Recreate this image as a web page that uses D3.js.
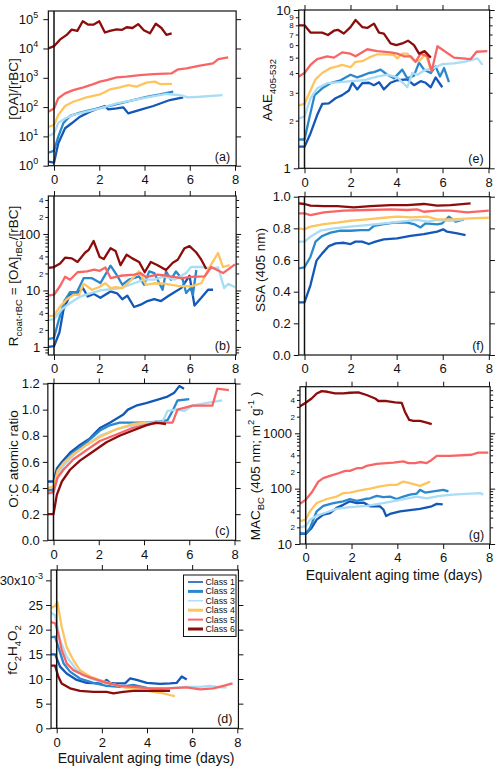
<!DOCTYPE html>
<html><head><meta charset="utf-8">
<script src="https://cdn.jsdelivr.net/npm/d3@7"></script>
<style>body{margin:0;background:#fff}svg{font-family:"Liberation Sans",Arial,Helvetica,sans-serif}</style>
</head><body><svg id="c" width="500" height="769"></svg>
<script>
// ---------------- data ----------------
const classes = ["Class 1","Class 2","Class 3","Class 4","Class 5","Class 6"];
const classColors = ["#1358b8","#2a88cc","#a9dcf5","#fec45e","#f96565","#8c0c0c"];
const xTicks = [0,2,4,6,8];
const oaTicks = [1,10,100,1000,10000,100000];
const rMajor = [1,10,100], rMinorLabels = [2,4,20,40,200,400];
const ocTicks = [0,0.2,0.4,0.6,0.8,1.0,1.2];
const fTicks = [0,5,10,15,20,25,30];
const aaeMajor = [1,10], aaeMinorLabels = [2,3,4,5,6,7,8,9];
const ssaTicks = [0,0.2,0.4,0.6,0.8,1.0];
const macMajor = [10,100,1000], macMinorLabels = [20,40,200,400,2000,4000];

// (a) [OA]/[rBC]
const oaRbc = [
 [[-0.25,1.37],[0,1.27],[0.19,5.8],[0.49,19],[0.78,28],[1.15,47],[1.59,70],[1.96,90],[2.25,109],[2.4,83],[2.77,90],[3.06,98],[3.28,61],[3.8,80],[4.39,109],[5.12,174],[5.71,215]],
 [[-0.25,2.8],[0,3.2],[0.19,9.8],[0.41,28],[0.71,50],[1.15,65],[1.74,83],[2.33,103],[2.91,134],[3.5,174],[4.09,225],[4.68,270],[5.27,335]],
 [[-0.25,10.3],[0,12.7],[0.19,29],[0.49,41],[0.85,54],[1.44,70],[2.03,90],[2.77,134],[3.5,174],[4.24,225],[4.97,280],[5.56,258],[5.93,215],[6.45,225],[7.45,258]],
 [[-0.25,21],[0,24.5],[0.19,54],[0.49,109],[0.85,152],[1.44,215],[2.03,270],[2.47,400],[2.91,470],[3.28,565],[3.65,500],[4.09,680],[4.46,740],[4.68,610],[5.22,620]],
 [[-0.25,70],[0,90],[0.19,200],[0.49,295],[0.85,380],[1.3,470],[1.74,610],[2.03,740],[2.33,835],[2.77,1030],[3.21,1090],[3.8,1240],[4.39,1340],[5.2,1420],[5.49,1940],[5.86,2100],[6.45,2600],[7.03,3100],[7.26,4300],[7.7,5000]],
 [[-0.25,1.0e4],[0,1.2e4],[0.26,2.0e4],[0.56,2.9e4],[0.78,4.4e4],[1.03,4.0e4],[1.27,8.5e4],[1.52,6.5e4],[1.74,6.5e4],[2.0,8.5e4],[2.25,3.5e4],[2.47,4.0e4],[2.77,4.5e4],[2.99,4.3e4],[3.21,5.3e4],[3.47,5.0e4],[3.72,6.8e4],[3.97,4.2e4],[4.24,3.3e4],[4.5,7.0e4],[4.75,5.0e4],[4.97,2.9e4],[5.2,3.3e4]]
];
// (b) R coat-rBC
const rCoat = [
 [[-0.25,1.0],[0,1.03],[0.24,1.8],[0.42,4.6],[0.71,8.4],[1.01,8.7],[1.28,11],[1.49,7.8],[1.75,8.7],[2.05,7.4],[2.5,9.6],[2.79,8.9],[3.02,7.0],[3.24,8.1],[3.54,5.1],[3.83,5.6],[4.13,6.5],[4.43,7.0],[4.73,6.5],[5.02,7.8],[5.32,9.3],[5.62,11],[5.99,18.2],[6.21,5.4],[6.51,7.4],[6.81,10.3],[7.03,10.3]],
 [[-0.25,1.38],[0,1.45],[0.19,2.8],[0.45,6.4],[0.71,9.3],[1.01,9.3],[1.31,16.5],[1.68,16.5],[2.05,13.5],[2.5,27.5],[2.79,18.3],[3.02,12.6],[3.31,15.5],[3.76,17.7],[3.98,12.6],[4.21,21.7],[4.43,20.3],[4.8,10.3],[4.95,21.7],[5.17,15.5],[5.39,21.7],[5.69,15.5],[5.84,9],[6.03,11],[6.14,8.4],[6.29,23]],
 [[-0.25,3.0],[0,3.1],[0.34,4.6],[0.71,6.0],[1.16,7.8],[1.6,8.9],[2.05,10],[2.5,10.5],[2.94,11],[3.54,13.4],[3.98,15.5],[4.43,15.5],[4.87,17.7],[5.32,15.5],[5.84,20.3],[6.06,26],[6.51,26],[6.95,24.6],[7.25,25.7],[7.52,11],[7.7,13.1],[8.0,11.4]],
 [[-0.25,3.5],[0,3.6],[0.27,5.2],[0.56,6.9],[0.86,8.4],[1.11,8.4],[1.31,13.1],[1.68,10.3],[1.98,11.4],[2.27,13.4],[2.5,11],[2.72,11.4],[3.02,11],[3.39,15.1],[3.76,21.8],[4.06,12.6],[4.43,13.4],[4.87,13.2],[5.47,12],[6.06,11.8],[6.51,13.4],[6.81,23.3],[7.25,46],[7.47,26],[7.77,28]],
 [[-0.25,8.1],[0,8.4],[0.27,12],[0.49,17.5],[0.71,15.5],[1.04,21],[1.46,21.7],[1.78,23.3],[2.02,22.3],[2.27,25.6],[2.5,16.6],[2.94,18.2],[3.54,19],[3.83,20.3],[4.06,17.3],[4.58,19],[5.02,18.2],[5.62,16.6],[6.21,17.5],[6.66,17.8],[6.95,26],[7.47,20.3],[8.0,29]],
 [[-0.25,25],[0,26],[0.27,30],[0.49,38],[0.79,37],[1.04,32],[1.38,47],[1.53,52],[1.75,75],[2.02,39],[2.2,36],[2.5,56],[2.72,50],[2.94,28],[3.21,43],[3.46,37],[3.76,32],[4.01,21],[4.28,32],[4.58,28],[4.95,23],[5.25,31],[5.47,35],[5.77,56],[5.99,61],[6.29,47],[6.51,35],[6.73,24]]
];
// (c) O:C
const ocRatio = [
 [[-0.25,0.45],[0,0.45],[0.15,0.55],[0.37,0.6],[0.73,0.67],[1.17,0.73],[1.61,0.78],[2.05,0.86],[2.49,0.9],[2.78,0.93],[3.07,0.96],[3.29,1.0],[3.65,1.03],[4.09,1.05],[4.68,1.08],[5.04,1.1],[5.34,1.13],[5.56,1.18],[5.77,1.16]],
 [[-0.25,0.38],[0,0.39],[0.18,0.53],[0.44,0.59],[0.88,0.67],[1.46,0.75],[2.05,0.84],[2.49,0.88],[2.92,0.9],[3.51,0.9],[4.09,0.9],[4.68,0.91],[5.04,0.92],[5.26,0.99],[5.48,1.07],[6.0,1.08]],
 [[-0.25,0.36],[0,0.36],[0.18,0.49],[0.44,0.57],[0.88,0.65],[1.46,0.73],[2.05,0.8],[2.78,0.85],[3.51,0.88],[4.24,0.9],[4.82,0.91],[5.04,0.99],[5.41,1.0],[5.77,0.99],[6.14,1.03],[6.73,1.05],[7.46,1.07]],
 [[-0.25,0.4],[0,0.41],[0.18,0.53],[0.44,0.59],[0.88,0.66],[1.46,0.73],[2.05,0.79],[2.78,0.85],[3.51,0.89],[4.09,0.9]],
 [[-0.25,0.36],[0,0.37],[0.18,0.48],[0.44,0.54],[0.88,0.62],[1.46,0.69],[2.05,0.76],[2.78,0.81],[3.51,0.86],[4.24,0.89],[4.82,0.9],[5.26,0.9],[5.48,1.0],[6.14,1.03],[7.02,1.03],[7.24,1.16],[7.75,1.15]],
 [[-0.25,0.2],[0,0.2],[0.15,0.35],[0.37,0.45],[0.73,0.54],[1.17,0.61],[1.75,0.68],[2.34,0.75],[2.92,0.8],[3.51,0.84],[4.09,0.88],[4.53,0.9],[4.97,0.89]]
];
// (d) fC2H4O2 (x10^-3)
const fC2H4O2 = [
 [[-0.3,15],[-0.07,15],[0.15,12.5],[0.44,11.1],[0.89,9.8],[1.33,9.2],[1.92,9.1],[2.21,9.8],[2.36,9.2],[2.58,9.1],[3.03,9.1],[3.25,10.1],[3.54,9.8],[3.99,9.2],[4.58,9.0],[5.02,9.1],[5.31,9.2],[5.54,10.5],[5.76,9.9]],
 [[-0.3,18.4],[-0.07,18.6],[0.07,16.5],[0.3,13.2],[0.59,11.5],[1.03,10.1],[1.62,9.2],[2.21,8.6],[2.8,8.4],[3.39,8.8],[3.99,8.2],[4.58,7.8],[5.02,7.6]],
 [[-0.3,23.6],[-0.07,22.9],[0.15,17.9],[0.44,14.5],[0.89,11.8],[1.48,10.1],[2.21,9.1],[3.1,8.4],[3.99,8.1],[4.87,8.1],[5.76,8.4],[6.35,8.4],[6.79,8.6],[7.23,8.3],[7.53,8.3]],
 [[-0.3,24.3],[-0.07,24.8],[0.03,25.6],[0.22,20.6],[0.44,16.5],[0.74,13.8],[1.03,11.8],[1.48,10.5],[1.92,9.8],[2.51,8.9],[3.1,8.2],[3.69,7.9],[4.28,7.4],[4.72,7.1],[5.24,6.5]],
 [[-0.3,21.6],[-0.07,21.3],[0.07,19.2],[0.22,15.9],[0.44,13.2],[0.74,11.8],[1.18,10.8],[1.62,10.1],[2.21,9.2],[2.8,8.6],[3.39,8.4],[4.13,8.1],[4.87,8.1],[5.76,8.3],[6.35,7.9],[6.94,8.1],[7.38,8.6],[7.79,9.1]],
 [[-0.3,12.7],[-0.07,12.7],[0.07,10.5],[0.22,9.1],[0.59,8.1],[1.03,7.6],[1.62,7.4],[2.21,7.4],[2.51,7.1],[2.95,7.4],[3.39,7.6],[3.99,7.6],[4.58,7.6],[5.02,7.6]]
];
// (e) AAE 405-532
const aae = [
 [[-0.25,1.37],[0,1.37],[0.26,1.66],[0.55,2.17],[0.77,2.55],[1.06,2.57],[1.35,2.77],[1.64,2.9],[1.93,3.1],[2.08,3.47],[2.29,3.15],[2.51,3.45],[2.8,3.47],[3.02,3.35],[3.24,3.5],[3.45,3.15],[3.74,3.47],[4.03,3.6],[4.47,3.65],[4.76,3.35],[5.05,3.55],[5.27,3.47],[5.49,3.25],[5.7,3.75],[5.99,3.25]],
 [[-0.25,1.52],[0,1.52],[0.19,2.02],[0.44,2.9],[0.77,3.2],[1.13,3.45],[1.57,3.6],[2.0,3.9],[2.29,3.75],[2.51,3.85],[2.8,4.0],[3.02,4.05],[3.31,4.2],[3.6,3.9],[3.89,3.7],[4.25,4.2],[4.47,3.7],[4.76,3.85],[4.98,4.65],[5.2,4.2],[5.49,4.0],[5.7,4.4],[5.89,3.8],[6.07,4.3],[6.28,3.5]],
 [[-0.25,2.07],[0,2.12],[0.26,2.77],[0.55,3.2],[0.99,3.45],[1.57,3.5],[2.0,3.55],[2.58,3.6],[3.16,3.8],[3.6,3.9],[4.03,3.75],[4.47,3.25],[4.69,4.0],[4.91,3.9],[5.2,4.15],[5.63,4.3],[5.99,4.55],[6.5,4.6],[6.94,4.7],[7.52,4.95],[7.74,4.5]],
 [[-0.25,2.5],[0,2.55],[0.26,3.1],[0.48,3.65],[0.77,4.0],[1.13,4.3],[1.42,4.4],[1.64,4.5],[2.0,4.35],[2.22,4.7],[2.51,4.75],[2.8,5.0],[3.16,5.25],[3.45,5.25],[3.89,5.2],[4.03,4.95],[4.25,5.3],[4.47,5.3],[4.76,4.8],[4.98,4.75],[5.27,5.3],[5.49,4.2]],
 [[-0.25,3.8],[0,4.0],[0.26,4.5],[0.55,4.9],[0.99,5.1],[1.28,5.0],[1.64,5.4],[2.0,5.3],[2.22,5.1],[2.73,5.65],[3.16,5.5],[3.74,5.4],[4.03,5.3],[4.33,5.1],[4.62,5.1],[4.83,4.7],[5.05,5.3],[5.34,5.1],[5.53,4.1],[5.78,5.9],[6.5,5.0],[7.23,4.9],[7.48,5.45],[7.95,5.5]],
 [[-0.25,8.0],[0,8.0],[0.26,7.2],[0.55,7.2],[0.77,7.2],[1.02,6.95],[1.28,7.4],[1.45,7.5],[1.71,7.1],[2.0,7.8],[2.22,8.65],[2.51,7.8],[2.73,7.7],[3.02,8.2],[3.24,7.2],[3.45,7.1],[3.74,6.15],[3.99,6.0],[4.25,6.15],[4.5,6.4],[4.76,6.0],[4.98,5.3],[5.22,5.5],[5.49,5.0]]
];
// (f) SSA 405 nm
const ssa = [
 [[-0.25,0.333],[0,0.333],[0.26,0.442],[0.52,0.596],[0.77,0.642],[1.06,0.688],[1.35,0.705],[1.71,0.709],[2.0,0.701],[2.21,0.716],[2.5,0.716],[2.79,0.701],[3.08,0.716],[3.44,0.731],[4.02,0.737],[4.6,0.752],[5.18,0.764],[5.76,0.779],[6.02,0.794],[6.19,0.779],[6.63,0.768],[6.99,0.758]],
 [[-0.25,0.547],[0,0.554],[0.26,0.621],[0.48,0.716],[0.77,0.752],[1.13,0.773],[1.56,0.785],[2.0,0.785],[2.43,0.789],[2.79,0.789],[3.01,0.815],[3.44,0.827],[3.88,0.836],[4.46,0.836],[4.75,0.827],[5.04,0.806],[5.25,0.832],[5.76,0.825],[5.98,0.832],[6.27,0.874],[6.56,0.842],[6.92,0.857]],
 [[-0.25,0.716],[0,0.716],[0.26,0.747],[0.69,0.785],[1.27,0.8],[2.0,0.811],[2.72,0.821],[3.44,0.832],[4.17,0.842],[4.89,0.853],[5.33,0.842],[5.76,0.853],[6.34,0.848],[6.9,0.857]],
 [[-0.25,0.8],[0,0.794],[0.26,0.811],[0.84,0.827],[1.42,0.836],[2.0,0.848],[2.72,0.857],[3.44,0.867],[4.02,0.874],[4.6,0.869],[5.33,0.874],[5.76,0.857],[6.34,0.857],[7.21,0.863],[8.0,0.867]],
 [[-0.25,0.895],[0,0.895],[0.26,0.884],[0.84,0.901],[1.71,0.912],[2.72,0.916],[3.73,0.92],[4.46,0.916],[4.89,0.92],[5.18,0.905],[5.76,0.912],[6.34,0.912],[7.06,0.901],[8.0,0.912]],
 [[-0.25,0.958],[0,0.954],[0.26,0.943],[0.84,0.941],[1.42,0.941],[2.14,0.933],[2.87,0.941],[3.73,0.947],[4.46,0.947],[5.18,0.954],[5.76,0.943],[6.34,0.947],[7.21,0.958]]
];
// (g) MAC BC 405 nm
const macBC = [
 [[-0.25,15.2],[0,15.2],[0.26,19.6],[0.48,27.5],[0.77,34],[1.06,36],[1.35,45],[1.64,51],[1.93,59],[2.23,55],[2.52,56],[2.66,52],[2.81,48],[3.24,48],[3.39,42],[3.51,32],[3.68,35],[4.12,39],[4.55,41],[4.99,43],[5.5,48],[5.72,53],[5.98,52]],
 [[-0.25,15.8],[0,15.4],[0.19,19.6],[0.48,39],[0.77,49],[1.21,55],[1.64,59],[1.93,65],[2.23,60],[2.59,65],[2.81,67],[3.1,74],[3.39,70],[3.68,72],[3.97,65],[4.26,72],[4.55,78],[4.84,81],[4.99,95],[5.21,85],[5.57,89],[6.01,95],[6.23,89]],
 [[-0.25,20],[0,21],[0.19,27.5],[0.48,32.5],[0.92,37.5],[1.35,43],[1.93,46.5],[2.66,49],[3.39,55],[4.12,63],[4.84,72],[5.28,67],[5.86,74],[6.44,78],[7.17,81],[7.61,83],[7.75,78]],
 [[-0.25,26],[0,27.5],[0.19,39],[0.48,55],[0.92,65],[1.35,72],[1.64,83],[1.93,85],[2.37,93],[2.81,100],[3.24,110],[3.68,117],[3.97,117],[4.26,134],[4.55,126],[4.99,112],[5.43,134]],
 [[-0.25,53],[0,63],[0.26,85],[0.55,134],[0.77,155],[1.06,170],[1.43,190],[1.72,210],[1.93,210],[2.23,234],[2.44,234],[2.66,258],[3.1,280],[3.53,290],[3.83,296],[4.26,310],[4.48,290],[4.77,290],[4.99,303],[5.28,290],[5.5,330],[5.72,390],[6.3,390],[7.24,410],[7.53,447],[7.97,447]],
 [[-0.3,3000],[0,3560],[0.26,4260],[0.48,5250],[0.7,5780],[0.95,5630],[1.28,5250],[1.64,5250],[1.93,5400],[2.3,5500],[2.66,4920],[3.03,4260],[3.17,3830],[3.53,3830],[3.9,3620],[4.19,3560],[4.33,2460],[4.52,1740],[4.7,1680],[4.99,1680],[5.28,1560],[5.5,1470]]
];

// ---------------- drawing ----------------
const svg = d3.select("#c");
const INK = "#111";

function minorsOf(lo, hi){
  const out=[];
  for(let e=Math.floor(Math.log10(lo))-1;e<=Math.ceil(Math.log10(hi));e++)
    for(let m=2;m<=9;m++){const v=m*Math.pow(10,e); if(v>=lo*0.999&&v<=hi*1.001) out.push(v);}
  return out;
}

function styleAxis(sel, size){
  sel.attr("font-family",null).attr("font-size",size);
  sel.select(".domain").remove();
  sel.selectAll(".tick line").attr("stroke",INK).attr("stroke-width",1);
  sel.selectAll(".tick text").attr("fill",INK);
}

function panel(o){
  const x = d3.scaleLinear().domain([0,8]).range([o.x0,o.x8]);
  const y = o.y;
  const L = x(-0.25), R = x(8.05);
  const B = y.range()[0], T = y.range()[1];
  const g = svg.append("g");
  const cid = "clip-"+o.name;
  svg.append("clipPath").attr("id",cid).append("rect")
     .attr("x",L).attr("y",T).attr("width",R-L).attr("height",B-T);

  const line = d3.line().x(d=>x(d[0])).y(d=>y(d[1]));
  const lg = g.append("g").attr("clip-path",`url(#${cid})`);
  o.data.forEach((s,i)=>{
    lg.append("path").attr("d",line(s)).attr("fill","none")
      .attr("stroke",classColors[i]).attr("stroke-width",2.3)
      .attr("stroke-linejoin","round").attr("stroke-linecap","butt");
  });

  g.append("line").attr("x1",x(0)).attr("x2",x(0)).attr("y1",T).attr("y2",B)
    .attr("stroke",INK).attr("stroke-width",1.5);
  g.append("rect").attr("x",L).attr("y",T).attr("width",R-L).attr("height",B-T)
    .attr("fill","none").attr("stroke",INK).attr("stroke-width",1.2);

  g.append("g").attr("transform",`translate(0,${B})`)
    .call(d3.axisBottom(x).tickValues(xTicks).tickSize(5).tickPadding(4).tickFormat(d3.format("d")))
    .call(s=>styleAxis(s,13));
  if(o.topTicks!==false){
    g.append("g").attr("transform",`translate(0,${T})`)
      .call(d3.axisTop(x).tickValues(xTicks).tickSize(5).tickFormat(""))
      .call(s=>styleAxis(s,13));
  }

  if(o.log){
    const [lo,hi] = y.domain();
    const minors = o.noMinor ? [] : minorsOf(lo,hi);
    const majFmt = d=>d3.format("d")(d);
    g.append("g").attr("transform",`translate(${L},0)`)
      .call(d3.axisLeft(y).tickValues(o.majors).tickSize(5).tickPadding(3).tickFormat(o.supLabels? ()=>"" : majFmt))
      .call(s=>styleAxis(s,13));
    if(minors.length){
      g.append("g").attr("transform",`translate(${L},0)`)
        .call(d3.axisLeft(y).tickValues(minors).tickSize(3).tickPadding(2)
          .tickFormat(d=> o.minorLabels.some(v=>Math.abs(v-d)<1e-6*v) ? d3.format("d")(+String(d)[0]) : ""))
        .call(s=>styleAxis(s,8));
      g.append("g").attr("transform",`translate(${R},0)`)
        .call(d3.axisRight(y).tickValues(minors).tickSize(3).tickFormat(""))
        .call(s=>styleAxis(s,8));
    }
    g.append("g").attr("transform",`translate(${R},0)`)
      .call(d3.axisRight(y).tickValues(o.majors).tickSize(5).tickFormat(""))
      .call(s=>styleAxis(s,13));
    if(o.supLabels){
      o.majors.forEach(v=>{
        const t = g.append("text").attr("x",L-10).attr("y",y(v)+4.5)
          .attr("text-anchor","end").attr("font-size",13).attr("fill",INK);
        t.append("tspan").text("10");
        t.append("tspan").attr("dy",-6).attr("font-size",9).text(String(Math.round(Math.log10(v))));
      });
    }
  } else {
    g.append("g").attr("transform",`translate(${L},0)`)
      .call(d3.axisLeft(y).tickValues(o.ticks).tickSize(5).tickPadding(3).tickFormat(o.fmt))
      .call(s=>styleAxis(s,13));
    g.append("g").attr("transform",`translate(${R},0)`)
      .call(d3.axisRight(y).tickValues(o.ticks).tickSize(5).tickFormat(""))
      .call(s=>styleAxis(s,13));
  }

  g.append("text").attr("x",R-6).attr("y",B-5).attr("text-anchor","end")
    .attr("font-size",12.5).attr("fill",INK).text(`(${o.name})`);
  return {g,x,y,L,R,T,B};
}

function yTitle(cx, cy, build){
  const t = svg.append("text").attr("transform",`translate(${cx},${cy}) rotate(-90)`)
    .attr("text-anchor","middle").attr("font-size",13.5).attr("fill",INK);
  build(t);
}

// ---- panel (a)
panel({name:"a", data:oaRbc, x0:54, x8:235, log:true, topTicks:false,
  y:d3.scaleLog().domain([1,1.9e5]).range([165.7,11]), majors:oaTicks, noMinor:true, supLabels:true});
yTitle(18, 89, t=>t.text("[OA]/[rBC]"));

// ---- panel (b)
panel({name:"b", data:rCoat, x0:54, x8:235, log:true,
  y:d3.scaleLog().domain([0.72,470]).range([355,196]), majors:rMajor, minorLabels:rMinorLabels});
yTitle(18, 276, t=>{
  t.append("tspan").text("R");
  t.append("tspan").attr("dy",4).attr("font-size",9.5).text("coat-rBC");
  t.append("tspan").attr("dy",-4).text(" = [OA]");
  t.append("tspan").attr("dy",4).attr("font-size",9.5).text("rBC");
  t.append("tspan").attr("dy",-4).text("/[rBC]");
});

// ---- panel (c)
panel({name:"c", data:ocRatio, x0:53.5, x8:234.5, log:false,
  y:d3.scaleLinear().domain([0,1.2]).range([540.3,383.5]), ticks:ocTicks, fmt:d3.format(".1f")});
yTitle(18, 459, t=>t.text("O:C atomic ratio"));

// ---- panel (d)
const pd = panel({name:"d", data:fC2H4O2, x0:56.7, x8:237.3, log:false,
  y:d3.scaleLinear().domain([0,32.1]).range([728.3,570]), ticks:fTicks,
  fmt:d=> d===30 ? "" : d3.format("d")(d)});
{
  const t = pd.g.append("text").attr("x",pd.L-8).attr("y",pd.y(30)+4.5).attr("text-anchor","end")
     .attr("font-size",13).attr("fill",INK);
  t.append("tspan").text("30x10");
  t.append("tspan").attr("dy",-6).attr("font-size",9).text("-3");
}
yTitle(17, 650, t=>{
  t.append("tspan").text("fC");
  t.append("tspan").attr("dy",4).attr("font-size",9.5).text("2");
  t.append("tspan").attr("dy",-4).text("H");
  t.append("tspan").attr("dy",4).attr("font-size",9.5).text("4");
  t.append("tspan").attr("dy",-4).text("O");
  t.append("tspan").attr("dy",4).attr("font-size",9.5).text("2");
});
{
  const lx = 183.5, ly = 575, lw = 52.5, lh = 61.5;
  const lgd = pd.g.append("g");
  lgd.append("rect").attr("x",lx).attr("y",ly).attr("width",lw).attr("height",lh)
    .attr("fill","#fff").attr("stroke",INK).attr("stroke-width",1);
  const widths = [1.6,3,1.4,3,2,3];
  classes.forEach((c,i)=>{
    const yy = ly + 7 + i*9.4;
    lgd.append("line").attr("x1",lx+4.5).attr("x2",lx+19.5).attr("y1",yy).attr("y2",yy)
      .attr("stroke",classColors[i]).attr("stroke-width",widths[i]);
    lgd.append("text").attr("x",lx+22).attr("y",yy+3).attr("font-size",8.8).attr("fill",INK).text(c);
  });
}
svg.append("text").attr("x",146).attr("y",763).attr("text-anchor","middle")
  .attr("font-size",14).attr("fill",INK).text("Equivalent aging time (days)");

// ---- panel (e)
panel({name:"e", data:aae, x0:304.5, x8:488.5, log:true,
  y:d3.scaleLog().domain([1,10]).range([168.3,10]), majors:aaeMajor, minorLabels:aaeMinorLabels});
yTitle(272, 90, t=>{
  t.append("tspan").text("AAE");
  t.append("tspan").attr("dy",4).attr("font-size",9.5).text("405-532");
});

// ---- panel (f)
panel({name:"f", data:ssa, x0:304.5, x8:488.8, log:false,
  y:d3.scaleLinear().domain([0,1]).range([355,196.7]), ticks:ssaTicks, fmt:d3.format(".1f")});
yTitle(265, 270, t=>t.text("SSA (405 nm)"));

// ---- panel (g)
panel({name:"g", data:macBC, x0:305.7, x8:489, log:true,
  y:d3.scaleLog().domain([10,6950]).range([544,386.7]), majors:macMajor, minorLabels:macMinorLabels});
yTitle(260, 466, t=>{
  t.append("tspan").text("MAC");
  t.append("tspan").attr("dy",4).attr("font-size",9.5).text("BC");
  t.append("tspan").attr("dy",-4).text("  (405 nm; m");
  t.append("tspan").attr("dy",-6).attr("font-size",9.5).text("2");
  t.append("tspan").attr("dy",6).text(" g");
  t.append("tspan").attr("dy",-6).attr("font-size",9.5).text("-1");
  t.append("tspan").attr("dy",6).text(" )");
});
svg.append("text").attr("x",394).attr("y",580).attr("text-anchor","middle")
  .attr("font-size",14).attr("fill",INK).text("Equivalent aging time (days)");
</script>
</body></html>
